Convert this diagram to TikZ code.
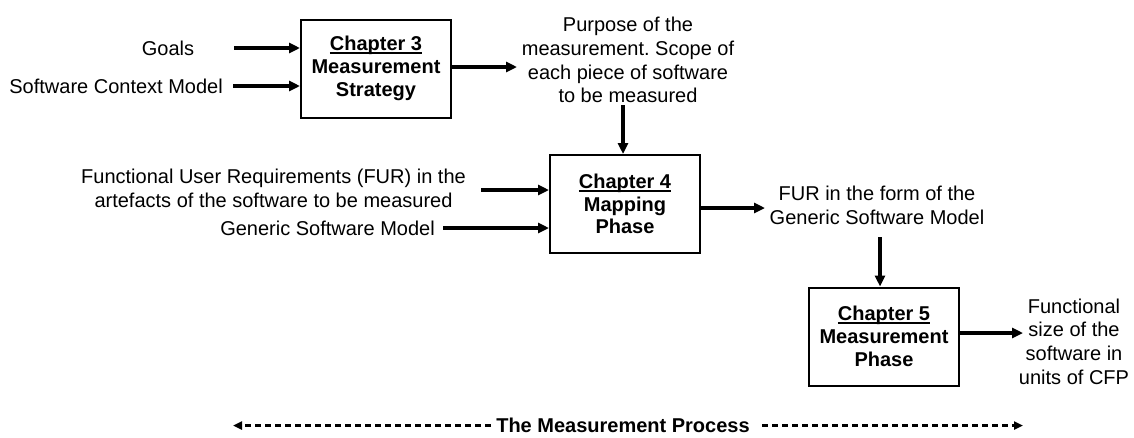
\documentclass[tikz,border=0pt]{standalone}
\usepackage{fontspec}
\setmainfont{Liberation Sans}
\usetikzlibrary{arrows.meta}
\frenchspacing
\newcommand\chapul[1]{\setbox0\hbox{#1}\rlap{\rule[-3.2pt]{\wd0}{1.8pt}}\box0}
\begin{document}
\begin{tikzpicture}[x=1pt,y=-1pt,
  txt/.style={inner sep=0pt,align=center,font=\fontsize{20}{23.7}\selectfont},
  chapbox/.style={draw,line width=2pt,minimum width=150pt,minimum height=98pt,inner sep=0pt,align=center,font=\fontsize{20}{22.8}\selectfont\bfseries},
  arr/.style={line width=3.5pt,-{Triangle[length=11pt,width=10pt]}},
  darr/.style={line width=2.4pt,dash pattern=on 6.5pt off 3.5pt,-{Triangle[length=9pt,width=8pt]}}]
\useasboundingbox (0,0) rectangle (1134,437);

% boxes
\node[chapbox] (b3) at (376,68.5) {\chapul{Chapter 3}\\Measurement\\Strategy};
\node[chapbox] (b4) at (625,204) {\chapul{Chapter 4}\\Mapping\\Phase};
\node[chapbox] (b5) at (884,336.5) {\chapul{Chapter 5}\\Measurement\\Phase};

% texts
\node[txt] (goals) at (168,48) {Goals};
\node[txt,anchor=east] (scm) at (223,86) {Software Context Model};
\node[txt] (purpose) at (628,60) {Purpose of the\\measurement. Scope of\\each piece of software\\to be measured};
\node[txt,anchor=east] (fur) at (466,188) {Functional User Requirements (FUR) in the\\artefacts of the software to be measured};
\node[txt,anchor=east] (gsm) at (435,228) {Generic Software Model};
\node[txt] (furform) at (877,205) {FUR in the form of the\\Generic Software Model};
\node[txt] (fsize) at (1074,341.5) {Functional\\size of the\\software in\\units of CFP};
\node[txt,font=\fontsize{20}{23.7}\selectfont\bfseries] (proc) at (623,425.5) {The Measurement Process};

% connectors
\coordinate (g0) at (234,48);
\draw[arr] (g0) -- (g0 -| b3.west);
\coordinate (s0) at (233,86);
\draw[arr] (s0) -- (s0 -| b3.west);
\coordinate (p1) at (517,67);
\draw[arr] (b3.east |- p1) -- (p1);
\coordinate (p2) at (623,105);
\draw[arr] (p2) -- (p2 |- b4.north);
\coordinate (f0) at (481,190);
\draw[arr] (f0) -- (f0 -| b4.west);
\coordinate (gm0) at (443,228);
\draw[arr] (gm0) -- (gm0 -| b4.west);
\coordinate (fo1) at (765,208);
\draw[arr] (b4.east |- fo1) -- (fo1);
\coordinate (fo2) at (880,237);
\draw[arr] (fo2) -- (fo2 |- b5.north);
\coordinate (fs1) at (1023,333);
\draw[arr] (b5.east |- fs1) -- (fs1);

% process arrows
\coordinate (pl) at (233,425.5);
\coordinate (pr) at (1023,425.5);
\draw[darr] ([xshift=-5pt]proc.west |- pl) -- (pl);
\draw[darr] ([xshift=12pt]proc.east |- pr) -- (pr);
\end{tikzpicture}
\end{document}
